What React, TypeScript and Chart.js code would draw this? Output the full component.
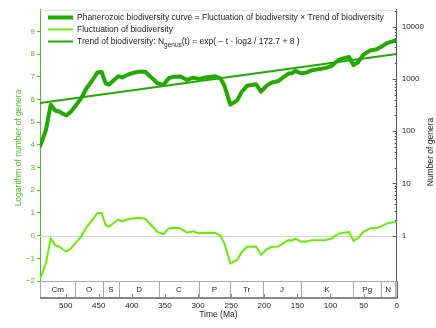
import React, { useEffect, useRef } from 'react';
import { Chart, registerables } from 'chart.js';

Chart.register(...registerables);

// Time (Ma) of sampled points
const times = [538.8, 530, 522.6, 516, 510, 505, 499, 492.5, 485, 476, 469, 461, 452, 445.7, 439.7, 434.7, 427, 420.5, 414.5, 407, 397, 387, 379.6, 372, 367, 362, 352.7, 344, 336.7, 326.6, 316.6, 307.5, 299, 289, 274, 266, 260, 251.3, 241, 233.7, 226, 212.5, 205, 196, 188.4, 179.4, 171, 163.4, 158.3, 153.3, 144.3, 137, 128, 108, 98, 88, 80.5, 72, 65.4, 58.8, 50.3, 40.2, 30, 22.6, 15, 2.6, 0];

// Fluctuation of biodiversity (ln units)
const fluctuation = [-1.9, -1.24, -0.13, -0.42, -0.48, -0.59, -0.7, -0.57, -0.33, -0.01, 0.35, 0.64, 1.0, 1.0, 0.47, 0.39, 0.57, 0.71, 0.63, 0.71, 0.77, 0.78, 0.74, 0.49, 0.35, 0.17, 0.06, 0.32, 0.35, 0.32, 0.13, 0.19, 0.1, 0.13, 0.12, -0.01, -0.37, -1.22, -1.07, -0.71, -0.49, -0.48, -0.84, -0.59, -0.49, -0.48, -0.33, -0.2, -0.22, -0.13, -0.27, -0.27, -0.2, -0.19, -0.13, 0.09, 0.13, 0.16, -0.23, -0.13, 0.17, 0.32, 0.33, 0.42, 0.54, 0.6, 0.6];

// Phanerozoic biodiversity curve (ln of number of genera)
const biodiversity = [3.94, 4.63, 5.77, 5.51, 5.47, 5.38, 5.3, 5.45, 5.72, 6.08, 6.47, 6.79, 7.19, 7.21, 6.71, 6.65, 6.86, 7.02, 6.97, 7.08, 7.18, 7.23, 7.22, 7.0, 6.88, 6.72, 6.64, 6.94, 7.0, 7.01, 6.86, 6.96, 6.9, 6.97, 7.02, 6.92, 6.59, 5.77, 5.96, 6.35, 6.6, 6.67, 6.34, 6.62, 6.75, 6.8, 6.98, 7.14, 7.15, 7.26, 7.15, 7.18, 7.29, 7.38, 7.48, 7.74, 7.81, 7.87, 7.51, 7.63, 7.97, 8.16, 8.21, 8.33, 8.48, 8.59, 8.6];

// Trend line end points
const trendTimes = [538.8, 0];
const trendValues = [5.84, 8.0];

// Axis ticks
const xTicks = [0, 50, 100, 150, 200, 250, 300, 350, 400, 450, 500];
const leftTicks = [-2, -1, 0, 1, 2, 3, 4, 5, 6, 7, 8, 9];
const rightTickGenera = [1, 10, 100, 1000, 10000];
const rightTickLabels = ['1', '10', '100', '1000', '10000'];

// Geologic periods
const periodLabels = ['Cm', 'O', 'S', 'D', 'C', 'P', 'Tr', 'J', 'K', 'Pg', 'N', ''];
const periodBounds = [538.8, 485.4, 443.8, 419.2, 358.9, 298.9, 251.9, 201.4, 145, 66, 23, 2.58, 0];

const DARK = '#22aa00';
const LIME = '#66ee00';
const AXIS_GREEN = '#4cbb2a';
const TEXT = '#222222';
const FONT = '"Liberation Sans", Arial, sans-serif';

const BAR_BOTTOM = 298;

const decorPlugin = {
  id: 'decor',
  beforeDatasetsDraw(chart: any) {
    const { ctx, chartArea, scales } = chart;
    const y0 = scales.y.getPixelForValue(0);
    ctx.save();
    ctx.strokeStyle = '#d4d4d4';
    ctx.lineWidth = 1;
    ctx.beginPath();
    ctx.moveTo(chartArea.left, Math.round(y0) + 0.5);
    ctx.lineTo(chartArea.right, Math.round(y0) + 0.5);
    ctx.stroke();
    ctx.strokeStyle = '#dddddd';
    ctx.beginPath();
    ctx.moveTo(chartArea.left, chartArea.top + 0.5);
    ctx.lineTo(chartArea.right, chartArea.top + 0.5);
    ctx.stroke();
    ctx.restore();
  },
  afterDraw(chart: any) {
    const { ctx, chartArea, scales } = chart;
    const xs = scales.x;
    const ys = scales.y2;
    const top = chartArea.bottom;
    ctx.save();
    // period bar
    ctx.fillStyle = '#ffffff';
    ctx.fillRect(chartArea.left, top, chartArea.right - chartArea.left, BAR_BOTTOM - top);
    ctx.strokeStyle = '#aaaaaa';
    ctx.lineWidth = 1;
    ctx.beginPath();
    ctx.moveTo(chartArea.left, top + 0.5);
    ctx.lineTo(chartArea.right, top + 0.5);
    ctx.stroke();
    for (let i = 0; i < periodBounds.length; i++) {
      const px = Math.round(xs.getPixelForValue(periodBounds[i])) + 0.5;
      ctx.beginPath();
      ctx.moveTo(px, top);
      ctx.lineTo(px, BAR_BOTTOM);
      ctx.stroke();
    }
    ctx.strokeStyle = '#888888';
    ctx.lineWidth = 2;
    ctx.beginPath();
    ctx.moveTo(chartArea.left, BAR_BOTTOM);
    ctx.lineTo(chartArea.right + 1, BAR_BOTTOM);
    ctx.stroke();
    ctx.fillStyle = TEXT;
    ctx.font = `8px ${FONT}`;
    ctx.textAlign = 'center';
    ctx.textBaseline = 'middle';
    for (let i = 0; i < periodLabels.length; i++) {
      const a = xs.getPixelForValue(periodBounds[i]);
      const b = xs.getPixelForValue(periodBounds[i + 1]);
      if (periodLabels[i]) ctx.fillText(periodLabels[i], (a + b) / 2, (top + BAR_BOTTOM) / 2);
    }
    // x tick marks (inside the bar, from the bottom)
    ctx.strokeStyle = '#888888';
    ctx.lineWidth = 1;
    for (const t of xTicks) {
      const px = Math.round(xs.getPixelForValue(t)) + 0.5;
      ctx.beginPath();
      ctx.moveTo(px, BAR_BOTTOM - 1);
      ctx.lineTo(px, BAR_BOTTOM - 4);
      ctx.stroke();
    }
    // right axis extension and ticks
    ctx.strokeStyle = '#555555';
    ctx.beginPath();
    ctx.moveTo(chartArea.right + 0.5, top);
    ctx.lineTo(chartArea.right + 0.5, BAR_BOTTOM);
    ctx.stroke();
    for (let n = 0; n <= 4; n++) {
      for (let k = 1; k <= 9; k++) {
        const lv = Math.log(k * Math.pow(10, n));
        if (lv > ys.max) continue;
        const py = Math.round(ys.getPixelForValue(lv)) + 0.5;
        const len = k === 1 ? 4 : 2;
        ctx.beginPath();
        ctx.moveTo(chartArea.right - len, py);
        ctx.lineTo(chartArea.right, py);
        ctx.stroke();
      }
    }
    // legend
    const lx1 = 48;
    const lx2 = 73;
    const tx = 77;
    ctx.lineCap = 'butt';
    ctx.strokeStyle = DARK;
    ctx.lineWidth = 4;
    ctx.beginPath();
    ctx.moveTo(lx1, 17.5);
    ctx.lineTo(lx2, 17.5);
    ctx.stroke();
    ctx.strokeStyle = LIME;
    ctx.lineWidth = 2;
    ctx.beginPath();
    ctx.moveTo(lx1, 29.5);
    ctx.lineTo(lx2, 29.5);
    ctx.stroke();
    ctx.strokeStyle = DARK;
    ctx.beginPath();
    ctx.moveTo(lx1, 41.5);
    ctx.lineTo(lx2, 41.5);
    ctx.stroke();
    ctx.fillStyle = TEXT;
    ctx.textAlign = 'left';
    ctx.textBaseline = 'middle';
    ctx.font = `8.5px ${FONT}`;
    ctx.fillText('Phanerozoic biodiversity curve = Fluctuation of biodiversity \u00d7 Trend of biodiversity', tx, 17.5);
    ctx.fillText('Fluctuation of biodiversity', tx, 29.5);
    const p1 = 'Trend of biodiversity: N';
    ctx.fillText(p1, tx, 41.5);
    let cx = tx + ctx.measureText(p1).width;
    ctx.font = `6.5px ${FONT}`;
    ctx.fillText('genus', cx, 45);
    cx += ctx.measureText('genus').width;
    ctx.font = `8.5px ${FONT}`;
    ctx.fillText('(t) = exp( \u2212 t \u00b7 log2 / 172.7 + 8 )', cx, 41.5);
    // axis titles
    ctx.textAlign = 'center';
    ctx.fillStyle = AXIS_GREEN;
    ctx.save();
    ctx.translate(19, 148);
    ctx.rotate(-Math.PI / 2);
    ctx.fillText('Logarithm of number of genera', 0, 0);
    ctx.restore();
    ctx.fillStyle = TEXT;
    ctx.save();
    ctx.translate(430.5, 152);
    ctx.rotate(-Math.PI / 2);
    ctx.fillText('Number of genera', 0, 0);
    ctx.restore();
    ctx.fillText('Time (Ma)', (chartArea.left + chartArea.right) / 2, 315);
    ctx.restore();
  },
};

export default function App() {
  const ref = useRef<HTMLCanvasElement>(null);
  useEffect(() => {
    document.body.style.margin = '0';
    Chart.defaults.font.family = FONT;
    Chart.defaults.font.size = 8;
    const toPts = (xsArr: number[], ysArr: number[]) => xsArr.map((t, i) => ({ x: t, y: ysArr[i] }));
    const chart = new Chart(ref.current!, {
      type: 'line',
      data: {
        datasets: [
          {
            label: 'Phanerozoic biodiversity curve',
            data: toPts(times, biodiversity),
            borderColor: DARK,
            borderWidth: 4,
            pointRadius: 0,
            tension: 0,
            borderJoinStyle: 'round',
            borderCapStyle: 'round',
            yAxisID: 'y',
          },
          {
            label: 'Fluctuation of biodiversity',
            data: toPts(times, fluctuation),
            borderColor: LIME,
            borderWidth: 2,
            pointRadius: 0,
            tension: 0,
            yAxisID: 'y',
          },
          {
            label: 'Trend of biodiversity',
            data: toPts(trendTimes, trendValues),
            borderColor: DARK,
            borderWidth: 2,
            pointRadius: 0,
            tension: 0,
            yAxisID: 'y',
          },
        ],
      },
      options: {
        responsive: false,
        animation: false,
        layout: { padding: { top: 6, left: 0, right: 0, bottom: 0 } },
        plugins: { legend: { display: false }, tooltip: { enabled: false } },
        scales: {
          x: {
            type: 'linear',
            reverse: true,
            min: 0,
            max: 538.8,
            afterBuildTicks: (s: any) => {
              s.ticks = xTicks.map((v) => ({ value: v }));
            },
            afterFit: (s: any) => {
              s.height = 47;
            },
            grid: { display: false, drawTicks: false },
            border: { display: false },
            ticks: { padding: 20, color: TEXT, font: { size: 8 }, maxRotation: 0, autoSkip: false },
          },
          y: {
            type: 'linear',
            position: 'left',
            min: -2,
            max: 9.95,
            afterBuildTicks: (s: any) => {
              s.ticks = leftTicks.map((v) => ({ value: v }));
            },
            afterFit: (s: any) => {
              s.width = 40;
            },
            grid: { drawOnChartArea: false, drawTicks: true, tickLength: 3, color: AXIS_GREEN },
            border: { color: AXIS_GREEN },
            ticks: {
              padding: 2,
              color: AXIS_GREEN,
              font: { size: 8 },
              callback: (v: any) => (v < 0 ? '\u2212' + Math.abs(v) : String(v)),
            },
          },
          y2: {
            type: 'linear',
            position: 'right',
            min: -2,
            max: 9.95,
            afterBuildTicks: (s: any) => {
              s.ticks = rightTickGenera.map((g) => ({ value: Math.log(g) }));
            },
            afterFit: (s: any) => {
              s.width = 39.3;
            },
            grid: { display: false, drawTicks: false },
            border: { color: '#555555' },
            ticks: {
              padding: 5,
              color: TEXT,
              font: { size: 8 },
              callback: (_v: any, i: number) => rightTickLabels[i],
            },
          },
        },
      },
      plugins: [decorPlugin],
    } as any);
    return () => chart.destroy();
  }, []);
  return (
    <div style={{ width: 436, height: 328 }}>
      <canvas ref={ref} width={436} height={328} style={{ display: 'block' }} />
    </div>
  );
}
